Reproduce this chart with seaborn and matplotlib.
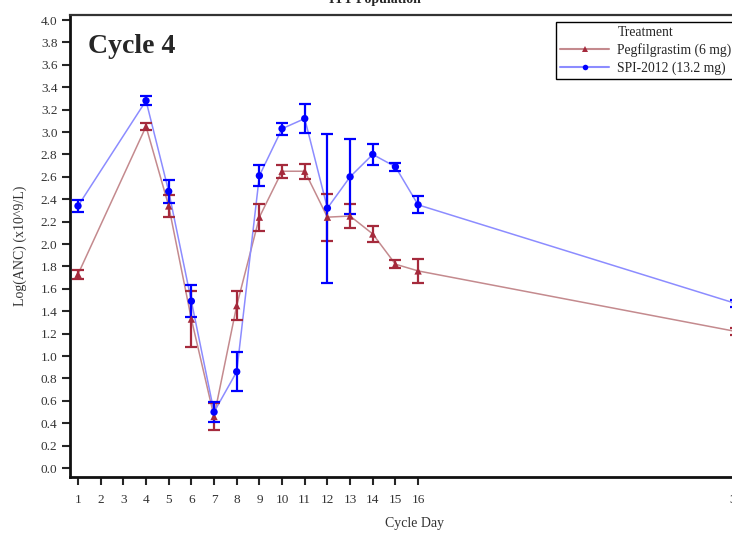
import matplotlib
matplotlib.use('Agg')
import matplotlib.pyplot as plt
import seaborn as sns
import pandas as pd
from matplotlib.lines import Line2D

# cycle days and mean log(ANC) with error bar half-widths
days = [1, 4, 5, 6, 7, 8, 9, 10, 11, 12, 13, 14, 15, 16, 30]
peg_mean = [1.73, 3.05, 2.34, 1.33, 0.46, 1.45, 2.24, 2.65, 2.65, 2.24, 2.25, 2.09, 1.82, 1.76, 1.22]
peg_err = [0.04, 0.03, 0.10, 0.25, 0.12, 0.13, 0.12, 0.06, 0.065, 0.21, 0.105, 0.075, 0.035, 0.105, 0.03]
spi_mean = [2.34, 3.28, 2.47, 1.49, 0.50, 0.86, 2.61, 3.03, 3.12, 2.32, 2.60, 2.80, 2.69, 2.35, 1.47]
spi_err = [0.05, 0.04, 0.10, 0.14, 0.09, 0.175, 0.095, 0.055, 0.13, 0.665, 0.335, 0.095, 0.035, 0.075, 0.03]

treatments = ['Pegfilgrastim (6 mg)', 'SPI-2012 (13.2 mg)']
x_ticks = list(range(1, 17)) + [30]
y_ticks = [i / 5 for i in range(21)]

df = pd.concat([
    pd.DataFrame({'Treatment': treatments[0], 'Day': days, 'Mean': peg_mean, 'Err': peg_err}),
    pd.DataFrame({'Treatment': treatments[1], 'Day': days, 'Mean': spi_mean, 'Err': spi_err}),
])

mark_cols = {treatments[0]: '#A52A3C', treatments[1]: '#0000FF'}
line_cols = {treatments[0]: '#C48A8E', treatments[1]: '#8C8CFF'}
markers = {treatments[0]: '^', treatments[1]: 'o'}

sns.set_theme(style='ticks')
plt.rcParams['font.family'] = ['Liberation Serif', 'DejaVu Serif']

fig = plt.figure(figsize=(7.32, 5.36), dpi=100)
ax = fig.add_axes([70 / 732, 59 / 536, 690 / 732, 462 / 536])

sns.lineplot(data=df, x='Day', y='Mean', hue='Treatment', palette=line_cols,
             estimator=None, errorbar=None, lw=1.1, legend=False, ax=ax, zorder=2)
for t in treatments:
    sub = df[df['Treatment'] == t]
    ax.errorbar(sub['Day'], sub['Mean'], yerr=sub['Err'], fmt='none',
                ecolor=mark_cols[t], elinewidth=1.6, capsize=4, capthick=1.6, zorder=3)
sns.scatterplot(data=df, x='Day', y='Mean', hue='Treatment', style='Treatment',
                palette=mark_cols, markers=markers, s=28, linewidth=0,
                legend=False, ax=ax, zorder=4)

ax.set_xlim(0.647, 31.08)
ax.set_ylim(-0.08, 4.045)
ax.set_xticks(x_ticks)
ax.set_xticklabels([str(d) for d in x_ticks])
ax.set_yticks(y_ticks)
ax.set_yticklabels([f'{v:.1f}' for v in y_ticks])
ax.tick_params(axis='both', length=6, width=1.5, labelsize=9.5, labelcolor='#333333')
ax.tick_params(axis='x', pad=6)
ax.tick_params(axis='y', pad=3)
ax.set_xlabel('Cycle Day', fontsize=10, color='#333333', labelpad=8)
ax.set_ylabel('Log(ANC) (x10^9/L)', fontsize=10, color='#333333', labelpad=10)
ax.spines['right'].set_visible(False)
for s in ['left', 'bottom']:
    ax.spines[s].set_linewidth(2)
    ax.spines[s].set_color('#111111')
ax.spines['top'].set_linewidth(1.6)
ax.spines['top'].set_color('#333333')

ax.text(88 / 732, 1 - 53 / 536, 'Cycle 4', transform=fig.transFigure,
        fontsize=20, fontweight='bold', ha='left', va='baseline')
fig.text(375 / 732, 1 - 3 / 536, 'ITT Population', fontsize=10, fontweight='bold',
         ha='center', va='baseline')

handles = [Line2D([], [], linestyle='none')]
for t in treatments:
    handles.append(Line2D([], [], color=line_cols[t], lw=1.5, marker=markers[t],
                          markersize=4, markerfacecolor=mark_cols[t], markeredgewidth=0))
leg = fig.legend(handles, ['Treatment'] + treatments, loc='upper left',
                 bbox_to_anchor=(556 / 732, 1 - 22 / 536), fontsize=9.8,
                 frameon=True, fancybox=False, edgecolor='black', framealpha=1,
                 handlelength=3.6, handletextpad=0.6, borderpad=0.3, labelspacing=0.3,
                 borderaxespad=0)
leg.get_frame().set_linewidth(1)

fig.savefig('out.png', dpi=100)
